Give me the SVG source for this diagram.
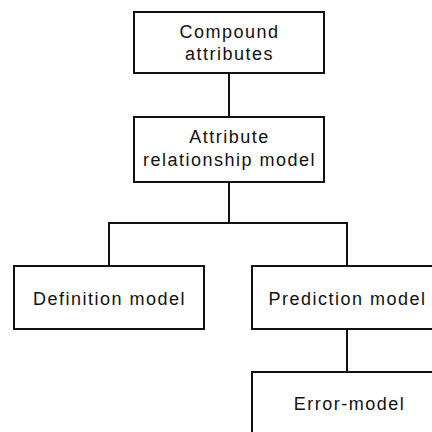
<svg xmlns="http://www.w3.org/2000/svg" width="432" height="432" viewBox="0 0 432 432">
<style>
.box{fill:#fff;stroke:#111;stroke-width:2}
.lbl{font-family:"Liberation Sans",Arial,sans-serif;font-size:18px;letter-spacing:1.5px;fill:#111;text-anchor:middle}
.con{stroke:#111;stroke-width:2;fill:none}
</style>
<rect width="432" height="432" fill="#fff"/>
<g id="connectors">
<line class="con" x1="229" y1="73" x2="229" y2="117"/>
<line class="con" x1="229" y1="182" x2="229" y2="223"/>
<polyline class="con" points="109,266 109,223 347,223 347,266"/>
<line class="con" x1="347" y1="329" x2="347" y2="372"/>
</g>
<g id="compound">
<rect class="box" x="134" y="12" width="190" height="61"/>
<text class="lbl" x="229.5" y="38">Compound</text>
<text class="lbl" x="229.5" y="60">attributes</text>
</g>
<g id="arm">
<rect class="box" x="134" y="117" width="190" height="65"/>
<text class="lbl" x="229.5" y="143">Attribute</text>
<text class="lbl" x="229.5" y="166">relationship model</text>
</g>
<g id="definition">
<rect class="box" x="14" y="266" width="190" height="63"/>
<text class="lbl" x="109.5" y="305">Definition model</text>
</g>
<g id="prediction">
<rect class="box" x="252" y="266" width="190" height="63"/>
<text class="lbl" x="347.5" y="305">Prediction model</text>
</g>
<g id="error">
<rect class="box" x="252" y="372" width="190" height="70"/>
<text class="lbl" x="349.5" y="410">Error-model</text>
</g>
</svg>
